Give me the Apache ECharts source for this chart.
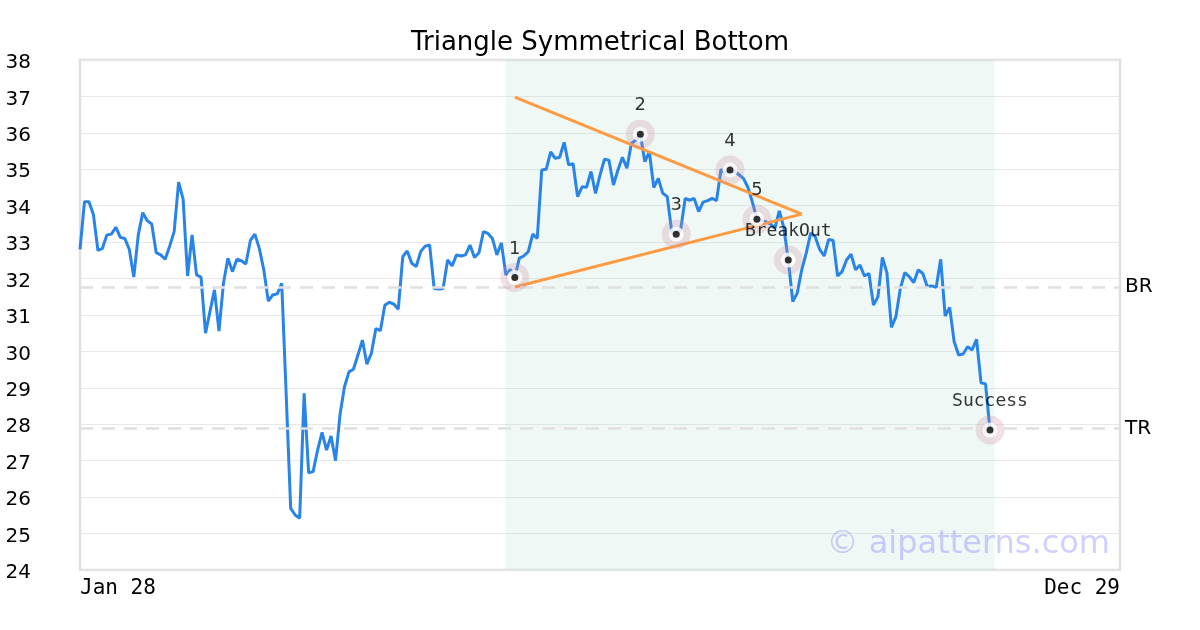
<!DOCTYPE html>
<html>
<head>
<meta charset="utf-8">
<script src="https://cdn.jsdelivr.net/npm/echarts@6/dist/echarts.min.js"></script>
<style>html,body{margin:0;padding:0;background:#fff;}#c{width:1200px;height:630px;}</style>
</head>
<body>
<div id="c"></div>
<script>
const titleText = 'Triangle Symmetrical Bottom';
const xTickLabels = ['Jan 28', 'Dec 29'];
const totalDays = 233;
const prices = [
  32.80, 34.11, 34.11, 33.75, 32.77, 32.83, 33.20, 33.22, 33.41, 33.13,
  33.10, 32.80, 32.04, 33.20, 33.81, 33.59, 33.50, 32.71, 32.65, 32.53,
  32.89, 33.29, 34.65, 34.18, 32.07, 33.20, 32.10, 32.04, 30.50, 31.10,
  31.69, 30.56, 31.87, 32.56, 32.19, 32.53, 32.49, 32.40, 33.04, 33.22,
  32.83, 32.24, 31.38, 31.55, 31.58, 31.87, 28.80, 25.69, 25.51, 25.42,
  28.85, 26.67, 26.70, 27.29, 27.78, 27.29, 27.68, 27.00, 28.26, 29.03,
  29.44, 29.51, 29.90, 30.31, 29.65, 29.95, 30.63, 30.57, 31.27, 31.35,
  31.30, 31.16, 32.60, 32.76, 32.42, 32.33, 32.74, 32.89, 32.92, 31.73,
  31.71, 31.73, 32.51, 32.35, 32.65, 32.62, 32.65, 32.92, 32.58, 32.71,
  33.29, 33.24, 33.10, 32.65, 32.98, 32.10, 32.25, 32.03, 32.56, 32.62,
  32.74, 33.22, 33.10, 34.98, 35.00, 35.48, 35.30, 35.33, 35.74, 35.12,
  35.15, 34.25, 34.52, 34.51, 34.94, 34.34, 34.84, 35.28, 35.25, 34.57,
  34.98, 35.33, 35.03, 35.71, 35.80, 35.96, 35.21, 35.48, 34.50, 34.75,
  34.34, 34.25, 33.29, 33.22, 33.35, 34.20, 34.15, 34.20, 33.84, 34.10,
  34.14, 34.20, 34.14, 35.00, 34.89, 34.98, 34.95, 34.85, 34.75, 34.50,
  34.10, 33.63, 33.60, 33.56, 33.50, 33.38, 33.86, 33.40, 32.51, 31.37,
  31.60, 32.24, 32.70, 33.25, 33.15, 32.80, 32.62, 33.07, 33.05, 32.07,
  32.19, 32.51, 32.67, 32.24, 32.37, 32.07, 32.14, 31.27, 31.50, 32.58,
  32.16, 30.66, 30.95, 31.73, 32.16, 32.05, 31.89, 32.24, 32.14, 31.78,
  31.80, 31.76, 32.53, 30.97, 31.21, 30.27, 29.90, 29.93, 30.13, 30.04,
  30.33, 29.14, 29.11, 27.84
];
const pointIdx = [97, 125, 133, 145, 151, 158, 203];
const pointVal = [32.03, 35.96, 33.22, 34.98, 33.63, 32.51, 27.84];
const pointLabels = ['1', '2', '3', '4', '5', 'BreakOut', 'Success'];
const upperLine = [[97, 36.98], [161, 33.77]];
const lowerLine = [[97, 31.77], [161, 33.77]];
const levelNames = ['BR', 'TR'];
const levelValues = [31.77, 27.88];
const shadeRange = [95, 204];
const yMin = 24, yMax = 38;

const chart = echarts.init(document.getElementById('c'), null, {renderer: 'canvas'});
const lineData = prices.map((v, i) => [i, v]);
const pts = pointIdx.map((x, k) => [x, pointVal[k]]);
const mono = 'DejaVu Sans Mono';
const sans = 'DejaVu Sans';

chart.setOption({
  animation: false,
  backgroundColor: '#fff',
  title: {
    text: titleText, left: 'center', top: 25,
    textStyle: {fontFamily: sans, fontSize: 26, fontWeight: 'normal', color: '#000'}
  },
  grid: {left: 80, right: 80, top: 60, bottom: 60, show: true, borderColor: '#e0e0e0', borderWidth: 2.5, containLabel: false},
  xAxis: {
    type: 'value', min: 0, max: totalDays - 1, interval: totalDays - 1,
    splitLine: {show: false}, axisLine: {show: false}, axisTick: {show: false},
    axisLabel: {
      fontFamily: mono, fontSize: 21, color: '#000', margin: 8,
      showMinLabel: true, showMaxLabel: true,
      alignMinLabel: 'left', alignMaxLabel: 'right',
      formatter: v => v === 0 ? xTickLabels[0] : xTickLabels[1]
    }
  },
  yAxis: {
    type: 'value', min: yMin, max: yMax, interval: 1,
    axisLine: {show: false}, axisTick: {show: false},
    splitLine: {show: true, lineStyle: {color: '#e8e8e8', width: 1}},
    axisLabel: {
      fontFamily: sans, fontSize: 20, color: '#000', margin: 49,
      formatter: v => '{a|' + v + '}',
      rich: {a: {fontFamily: sans, fontSize: 20, color: '#000', padding: [6, 0, 0, 0]}}
    }
  },
  graphic: [{
    type: 'text', right: 90, top: 529, z: 100,
    style: {text: '© aipatterns.com', font: '32px "DejaVu Sans"', fill: 'rgba(120,120,255,0.35)'}
  }],
  series: [
    {
      type: 'line', data: lineData, showSymbol: false, z: 3,
      lineStyle: {color: '#2884e8', width: 3},
      markArea: {
        silent: true,
        itemStyle: {color: 'rgba(180,225,205,0.22)'},
        data: [[{xAxis: shadeRange[0]}, {xAxis: shadeRange[1]}]]
      },
      markLine: {
        silent: true, symbol: 'none',
        lineStyle: {color: '#e0e0e0', width: 2.5, type: [13, 9]},
        label: {position: 'end', formatter: '{b}', fontFamily: sans, fontSize: 20, color: '#000', distance: 5, padding: [3, 0, 0, 0]},
        data: levelNames.map((n, k) => ({name: n, yAxis: levelValues[k]}))
      }
    },
    {type: 'line', data: upperLine, showSymbol: false, z: 4, lineStyle: {color: '#fd9b43', width: 3}},
    {type: 'line', data: lowerLine, showSymbol: false, z: 4, lineStyle: {color: '#fd9b43', width: 3}},
    {
      type: 'scatter', data: pts.map((p, k) => ({
        value: p,
        label: {
          show: true, position: 'top', distance: 5, formatter: pointLabels[k],
          fontFamily: pointLabels[k].length > 1 ? mono : sans, fontSize: 18, color: '#000'
        }
      })),
      symbolSize: 29, z: 5, itemStyle: {color: 'rgba(205,140,160,0.32)'}
    },
    {type: 'scatter', data: pts, symbolSize: 15, z: 6, itemStyle: {color: '#fff'}},
    {type: 'scatter', data: pts, symbolSize: 7, z: 7, itemStyle: {color: '#000'}}
  ]
});
</script>
</body>
</html>
